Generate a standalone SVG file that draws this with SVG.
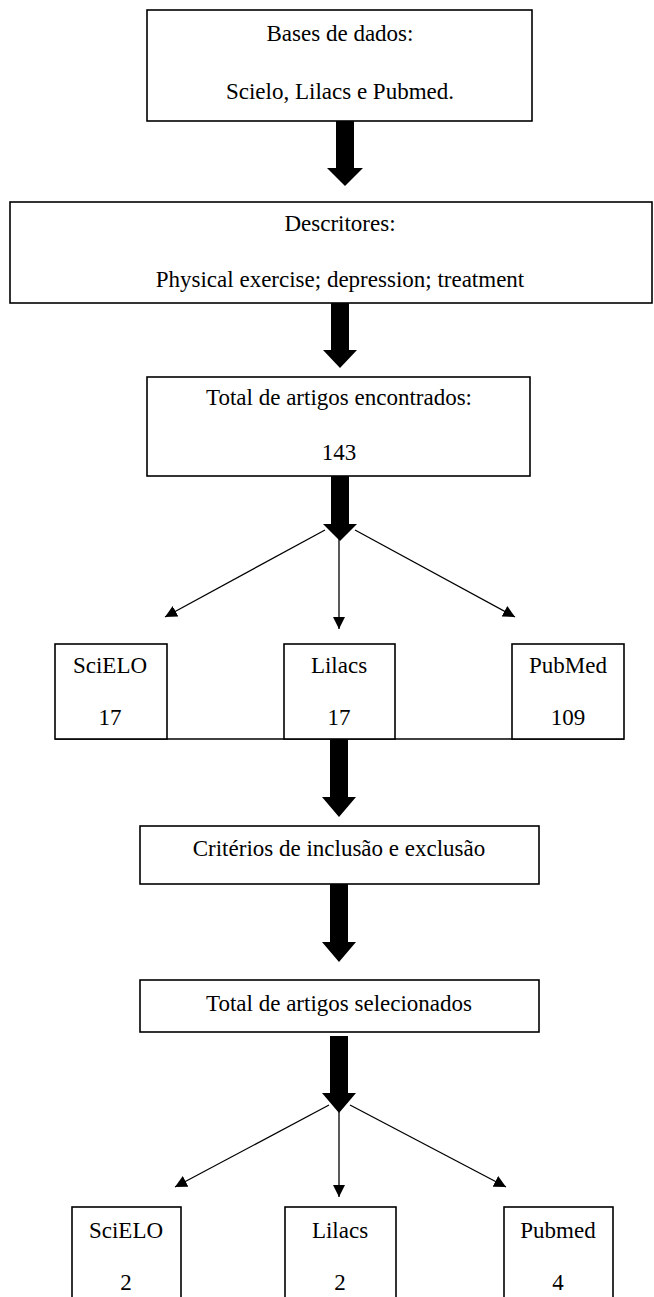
<svg xmlns="http://www.w3.org/2000/svg" width="654" height="1297" viewBox="0 0 654 1297">
<defs>
<style>
.box{fill:#fff;stroke:#000;stroke-width:1.6}
.t{font-family:"Liberation Serif","Times New Roman",serif;font-size:23px;fill:#000;text-anchor:middle}
.big{fill:#000;stroke:none}
.thin{stroke:#000;stroke-width:1.3;fill:none}
</style>
<marker id="ah" viewBox="0 0 12 12" refX="12" refY="6" markerWidth="12" markerHeight="12" markerUnits="userSpaceOnUse" orient="auto">
<path d="M0,0 L12,6 L0,12 Z" fill="#000"/>
</marker>
</defs>
<rect width="654" height="1297" fill="#fff"/>
<g id="connectors">
<polygon class="big" points="336,121 354,121 354,168 363,168 345,186 327,168 336,168"/>
<polygon class="big" points="331,303 349,303 349,350 357,350 340,368 323,350 331,350"/>
<polygon class="big" points="331,476 349,476 349,524 357,524 340,541 323,524 331,524"/>
<line class="thin" x1="325" y1="530" x2="165" y2="617" marker-end="url(#ah)"/>
<line class="thin" x1="339" y1="536" x2="339" y2="629" marker-end="url(#ah)"/>
<line class="thin" x1="355" y1="530" x2="515" y2="617" marker-end="url(#ah)"/>
<polygon class="big" points="330,739 348,739 348,797 356,797 339,817 322,797 330,797"/>
<polygon class="big" points="330,884 348,884 348,942 356,942 339,962 322,942 330,942"/>
<polygon class="big" points="330,1036 348,1036 348,1093 356,1093 339,1113 322,1093 330,1093"/>
<line class="thin" x1="329" y1="1105" x2="175" y2="1187" marker-end="url(#ah)"/>
<line class="thin" x1="339" y1="1110" x2="339" y2="1197" marker-end="url(#ah)"/>
<line class="thin" x1="350" y1="1105" x2="506" y2="1187" marker-end="url(#ah)"/>
<line class="thin" x1="55" y1="739" x2="624" y2="739" style="stroke-width:1.6"/>
</g>
<g id="bases">
<rect class="box" x="147" y="10" width="385" height="111"/>
<text class="t" x="340" y="41">Bases de dados:</text>
<text class="t" x="340" y="99">Scielo, Lilacs e Pubmed.</text>
</g>
<g id="descritores">
<rect class="box" x="10" y="202" width="642" height="101"/>
<text class="t" x="340" y="231">Descritores:</text>
<text class="t" x="340" y="287">Physical exercise; depression; treatment</text>
</g>
<g id="total-encontrados">
<rect class="box" x="147" y="377" width="383" height="99"/>
<text class="t" x="339" y="405">Total de artigos encontrados:</text>
<text class="t" x="339" y="460">143</text>
</g>
<g id="scielo1">
<rect class="box" x="55" y="644" width="112" height="95"/>
<text class="t" x="110" y="673">SciELO</text>
<text class="t" x="110" y="725">17</text>
</g>
<g id="lilacs1">
<rect class="box" x="284" y="644" width="111" height="95"/>
<text class="t" x="339" y="673">Lilacs</text>
<text class="t" x="339" y="725">17</text>
</g>
<g id="pubmed1">
<rect class="box" x="512" y="644" width="112" height="95"/>
<text class="t" x="568" y="673">PubMed</text>
<text class="t" x="568" y="725">109</text>
</g>
<g id="criterios">
<rect class="box" x="140" y="826" width="399" height="58"/>
<text class="t" x="339" y="856">Critérios de inclusão e exclusão</text>
</g>
<g id="total-selecionados">
<rect class="box" x="140" y="980" width="399" height="52"/>
<text class="t" x="339" y="1011">Total de artigos selecionados</text>
</g>
<g id="scielo2">
<rect class="box" x="72" y="1207" width="109" height="100"/>
<text class="t" x="126" y="1238">SciELO</text>
<text class="t" x="126" y="1290">2</text>
</g>
<g id="lilacs2">
<rect class="box" x="285" y="1207" width="111" height="100"/>
<text class="t" x="340" y="1238">Lilacs</text>
<text class="t" x="340" y="1290">2</text>
</g>
<g id="pubmed2">
<rect class="box" x="504" y="1207" width="109" height="100"/>
<text class="t" x="558" y="1238">Pubmed</text>
<text class="t" x="558" y="1290">4</text>
</g>
</svg>
